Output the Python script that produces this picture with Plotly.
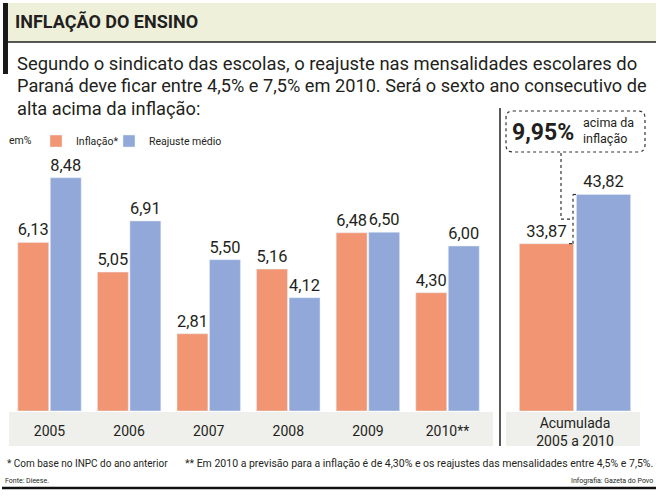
import plotly.graph_objects as go

# ---- data ----
years = ["2005", "2006", "2007", "2008", "2009", "2010**"]
inflacao = [6.13, 5.05, 2.81, 5.16, 6.48, 4.30]
reajuste = [8.48, 6.91, 5.50, 4.12, 6.50, 6.00]
acum_label = ["Acumulada<br>2005 a 2010"]
acum_inflacao = [33.87]
acum_reajuste = [43.82]

ORANGE = "#F19572"
BLUE = "#91A8D8"
DARK = "#231F20"
W, H = 660, 499


def X(px):
    return px / W


def Y(py):
    return 1 - py / H


def br(v):
    return f"{v:.2f}".replace(".", ",")


FONT = "Roboto"

fig = go.Figure()
fig.add_trace(go.Bar(x=years, y=inflacao, name="Inflação*", marker_color=ORANGE,
                     text=[br(v) for v in inflacao], texttemplate="%{text}",
                     textposition="outside", cliponaxis=False, legend="legend",
                     textfont=dict(size=16.5, color=DARK, family=FONT),
                     xaxis="x", yaxis="y"))
fig.add_trace(go.Bar(x=years, y=reajuste, name="Reajuste médio", marker_color=BLUE,
                     text=[br(v) for v in reajuste], texttemplate="%{text}",
                     textposition="outside", cliponaxis=False, legend="legend2",
                     textfont=dict(size=16.5, color=DARK, family=FONT),
                     xaxis="x", yaxis="y"))
fig.add_trace(go.Bar(x=acum_label, y=acum_inflacao, name="Inflação*", marker_color=ORANGE,
                     text=[br(v) for v in acum_inflacao], texttemplate="%{text}",
                     textposition="outside", cliponaxis=False, showlegend=False,
                     textfont=dict(size=16.5, color=DARK, family=FONT),
                     xaxis="x2", yaxis="y2"))
fig.add_trace(go.Bar(x=acum_label, y=acum_reajuste, name="Reajuste médio", marker_color=BLUE,
                     text=[br(v) for v in acum_reajuste], texttemplate="%{text}",
                     textposition="outside", cliponaxis=False, showlegend=False,
                     textfont=dict(size=16.5, color=DARK, family=FONT),
                     xaxis="x2", yaxis="y2"))

YTOP2 = 50.8
ydom = [Y(411), Y(160)]
leg_common = dict(orientation="h", xanchor="left", yanchor="middle",
                  font=dict(size=10.5, family=FONT, color=DARK), itemwidth=30,
                  bgcolor="rgba(0,0,0,0)", borderwidth=0)
fig.update_layout(
    width=W, height=H, margin=dict(l=0, r=0, t=0, b=0),
    paper_bgcolor="white", plot_bgcolor="rgba(0,0,0,0)",
    barmode="group", bargap=0.183, bargroupgap=0.05,
    font=dict(family=FONT, color=DARK),
    xaxis=dict(domain=[X(9.7), X(487.3)], range=[-0.5, 5.5], showgrid=False,
               showline=False, zeroline=False, ticks="", ticklabelstandoff=10,
               tickfont=dict(size=14, color=DARK, family=FONT), fixedrange=True),
    yaxis=dict(domain=ydom, range=[0, 9.127], visible=False, fixedrange=True),
    xaxis2=dict(domain=[X(505.2), X(644.8)], range=[-0.5, 0.5], anchor="y2",
                showgrid=False, showline=False, zeroline=False, ticks="",
                ticklabelstandoff=2,
                tickfont=dict(size=14, color=DARK, family=FONT), fixedrange=True),
    yaxis2=dict(domain=ydom, range=[0, YTOP2], visible=False, anchor="x2",
                fixedrange=True),
    showlegend=True,
    legend=dict(x=X(36), y=Y(141), **leg_common),
    legend2=dict(x=X(109), y=Y(141), **leg_common),
)

shapes = []
# title band
shapes.append(dict(type="rect", xref="paper", yref="paper", x0=X(8), x1=X(656),
                   y0=Y(42), y1=Y(3), fillcolor="#EEF0DA", line_width=0, layer="below"))
shapes.append(dict(type="rect", xref="paper", yref="paper", x0=X(3), x1=X(8),
                   y0=Y(74), y1=Y(3), fillcolor="#1A1A1A", line_width=0))
shapes.append(dict(type="line", xref="paper", yref="paper", x0=X(8), x1=X(656),
                   y0=Y(42), y1=Y(42), line=dict(color="#222", width=1.5)))
# category bands
shapes.append(dict(type="rect", xref="paper", yref="paper", x0=X(9), x1=X(493),
                   y0=Y(446), y1=Y(412), fillcolor="#EFEFEC", line_width=0, layer="below"))
shapes.append(dict(type="rect", xref="paper", yref="paper", x0=X(506), x1=X(640),
                   y0=Y(446), y1=Y(412), fillcolor="#EFEFEC", line_width=0, layer="below"))
# separator
shapes.append(dict(type="line", xref="paper", yref="paper", x0=X(500), x1=X(500),
                   y0=Y(446), y1=Y(108), line=dict(color="#222", width=1.5)))
# bottom rule
shapes.append(dict(type="line", xref="paper", yref="paper", x0=X(2), x1=X(656),
                   y0=Y(488), y1=Y(488), line=dict(color="#111", width=2.5)))

# callout dashed rounded box
bx0, bx1, by0, by1, r = 506, 645, 111, 152, 7
path = (f"M {X(bx0 + r)},{Y(by0)} L {X(bx1 - r)},{Y(by0)} "
        f"Q {X(bx1)},{Y(by0)} {X(bx1)},{Y(by0 + r)} L {X(bx1)},{Y(by1 - r)} "
        f"Q {X(bx1)},{Y(by1)} {X(bx1 - r)},{Y(by1)} L {X(bx0 + r)},{Y(by1)} "
        f"Q {X(bx0)},{Y(by1)} {X(bx0)},{Y(by1 - r)} L {X(bx0)},{Y(by0 + r)} "
        f"Q {X(bx0)},{Y(by0)} {X(bx0 + r)},{Y(by0)} Z")
shapes.append(dict(type="path", xref="paper", yref="paper", path=path,
                   line=dict(color="#333", width=1.2, dash="dot")))
# bracket between the two accumulated bars
top_v, low_v = acum_reajuste[0], acum_inflacao[0]
mid_v = (top_v + low_v) / 2
dash = dict(color="#333", width=1.2, dash="dot")
shapes.append(dict(type="line", xref="paper", yref="y2", x0=X(573), x1=X(573),
                   y0=low_v, y1=top_v, line=dash))
shapes.append(dict(type="line", xref="paper", yref="y2", x0=X(573), x1=X(577),
                   y0=top_v, y1=top_v, line=dash))
shapes.append(dict(type="line", xref="paper", yref="y2", x0=X(569), x1=X(573),
                   y0=low_v, y1=low_v, line=dash))
shapes.append(dict(type="line", xref="paper", yref="y2", x0=X(561), x1=X(573),
                   y0=mid_v, y1=mid_v, line=dash))
shapes.append(dict(type="line", xref="paper", yref="paper", x0=X(561), x1=X(561),
                   y0=Y(153), y1=Y(411 - mid_v * (251 / YTOP2)), line=dash))
fig.update_layout(shapes=shapes)

ann = []


def text(px, py, s, size, anchor="left", family=FONT, color=DARK, yanchor="middle",
         align="left"):
    ann.append(dict(xref="paper", yref="paper", x=X(px), y=Y(py), text=s,
                    showarrow=False, xanchor=anchor, yanchor=yanchor, align=align,
                    font=dict(size=size, family=family, color=color)))


text(13, 21, "<b>INFLAÇÃO DO ENSINO</b>", 18)
text(15, 63, "Segundo o sindicato das escolas, o reajuste nas mensalidades escolares do", 18.4)
text(15, 86, "Paraná deve ficar entre 4,5% e 7,5% em 2010. Será o sexto ano consecutivo de", 18.2)
text(15, 108, "alta acima da inflação:", 18.3)
text(7, 141, "em%", 10.5)
diff = top_v - low_v
text(510, 132, f"<b>{br(diff)}%</b>", 23)
text(581, 131, "acima da<br>inflação", 12.5)
text(5, 463, "* Com base no INPC do ano anterior", 10)
text(183, 463, "** Em 2010 a previsão para a inflação é de 4,30% e os reajustes das mensalidades entre 4,5% e 7,5%.", 10.5)
text(3, 481, "Fonte: Dieese.", 7)
text(655, 481, "Infografia: Gazeta do Povo", 7, anchor="right")
fig.update_layout(annotations=ann)

fig.write_html("out.html", config={"displayModeBar": False},
               post_script="document.body.style.margin='0px';")
